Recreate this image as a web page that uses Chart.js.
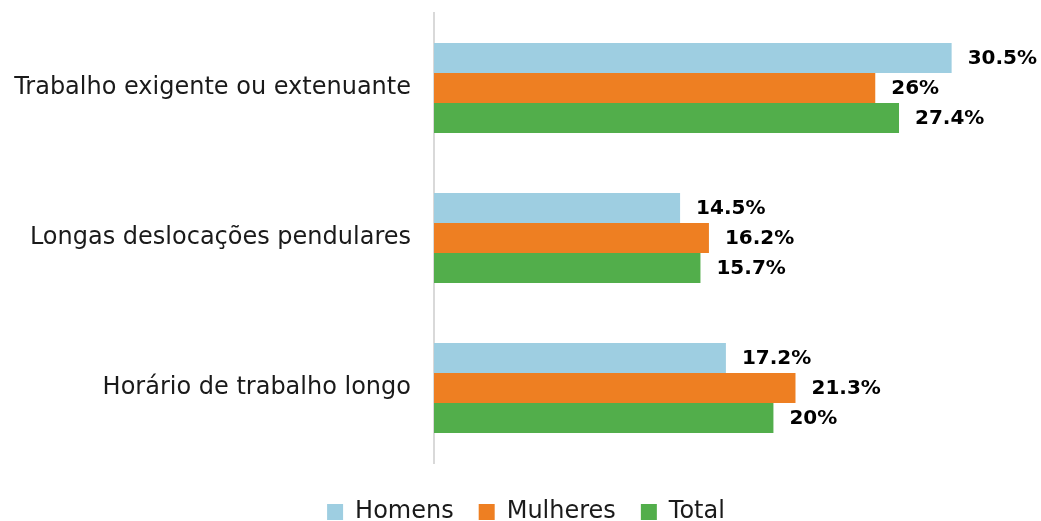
<!DOCTYPE html>
<html>
<head>
<meta charset="utf-8">
<script src="https://cdn.jsdelivr.net/npm/chart.js@4"></script>
<style>
    html, body { margin: 0; padding: 0; background: #fff; }
    #box { width: 1041px; height: 521px; }
</style>
</head>
<body>
<div id="box"><canvas id="grafico"></canvas></div>
<script>
// dados
const categorias = ['Trabalho exigente ou extenuante', 'Longas deslocações pendulares', 'Horário de trabalho longo'];
const homens = [30.5, 14.5, 17.2];
const mulheres = [26, 16.2, 21.3];
const total = [27.4, 15.7, 20];

const fonte = "'DejaVu Sans', sans-serif";

// escreve os valores à direita de cada barra
const rotulosBarras = {
    id: 'rotulosBarras',
    afterDatasetsDraw(chart) {
        const ctx = chart.ctx;
        ctx.save();
        ctx.font = 'bold 20px ' + fonte;
        ctx.fillStyle = '#000';
        ctx.textAlign = 'left';
        ctx.textBaseline = 'middle';
        chart.data.datasets.forEach(function (ds, i) {
            chart.getDatasetMeta(i).data.forEach(function (bar, j) {
                ctx.fillText(ds.data[j] + '%', bar.x + 16, bar.y + 1);
            });
        });
        ctx.restore();
    }
};

// altura fixa da legenda e pequeno deslocamento para a direita
const legendaAjuste = {
    id: 'legendaAjuste',
    beforeInit(chart) {
        const fitOriginal = chart.legend.fit;
        chart.legend.fit = function () {
            fitOriginal.bind(chart.legend)();
            this.height = 46;
        };
    },
    afterLayout(chart) {
        chart.legend.left += 12;
        chart.legend.right += 12;
    }
};

new Chart(document.getElementById('grafico'), {
    type: 'bar',
    data: {
        labels: categorias,
        datasets: [
            { label: 'Homens', data: homens, backgroundColor: '#9ECEE1' },
            { label: 'Mulheres', data: mulheres, backgroundColor: '#EE7F22' },
            { label: 'Total', data: total, backgroundColor: '#52AE4B' }
        ]
    },
    options: {
        indexAxis: 'y',
        responsive: true,
        maintainAspectRatio: false,
        animation: false,
        categoryPercentage: 0.6,
        barPercentage: 1,
        layout: { padding: { top: 13, right: 13, left: 0, bottom: 0 } },
        scales: {
            x: {
                min: 0,
                max: 35,
                grid: { display: false },
                border: { display: false },
                ticks: { display: false },
                afterFit: function (scale) { scale.height = 12; }
            },
            y: {
                grid: { display: false, drawTicks: false },
                border: { display: true, color: '#d9d9d9', width: 2 },
                ticks: { color: '#1a1a1a', padding: 23, font: { family: fonte, size: 24 } },
                afterFit: function (scale) {
                    scale.width = 434;
                    scale.paddingTop = 0;
                    scale.paddingBottom = 0;
                }
            }
        },
        plugins: {
            legend: {
                position: 'bottom',
                labels: {
                    boxWidth: 16,
                    boxHeight: 16,
                    padding: 25,
                    color: '#1a1a1a',
                    font: { family: fonte, size: 24 }
                }
            },
            tooltip: { enabled: false }
        }
    },
    plugins: [rotulosBarras, legendaAjuste]
});
</script>
</body>
</html>
